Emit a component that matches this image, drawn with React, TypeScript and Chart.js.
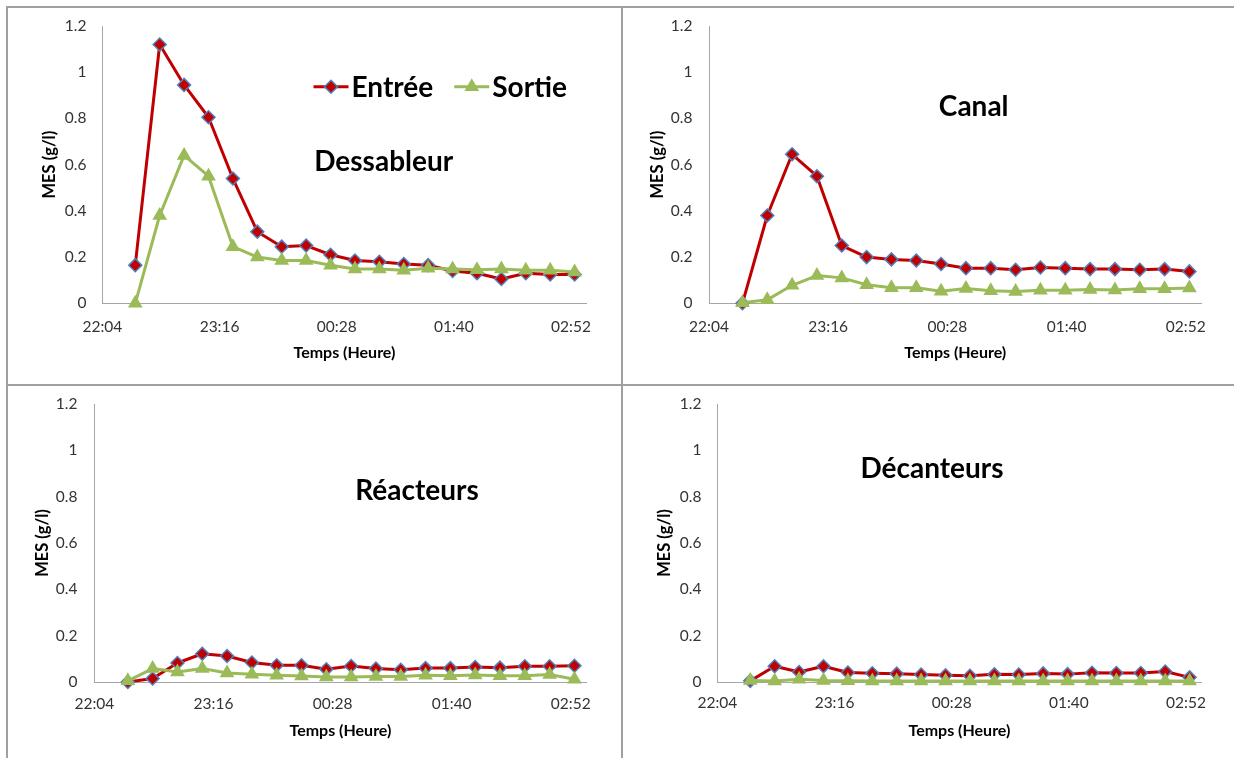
import React, { useEffect, useRef } from "react";
import { Chart, registerables } from "chart.js";

Chart.register(...registerables);

// ---------------- data ----------------
const sampleTimes = [
  "22:25", "22:40", "22:55", "23:10", "23:25", "23:40", "23:55", "00:10", "00:25", "00:40",
  "00:55", "01:10", "01:25", "01:40", "01:55", "02:10", "02:25", "02:40", "02:55",
];
const xTickLabels = ["22:04", "23:16", "00:28", "01:40", "02:52"];
const yTickValues = [0, 0.2, 0.4, 0.6, 0.8, 1, 1.2];
const seriesNames = ["Entrée", "Sortie"];
const panelTitles = ["Dessableur", "Canal", "Réacteurs", "Décanteurs"];
const xAxisTitle = "Temps (Heure)";
const yAxisTitle = "MES (g/l)";

const dessableurEntree = [0.165, 1.12, 0.945, 0.805, 0.54, 0.31, 0.245, 0.25, 0.21, 0.185, 0.18, 0.17, 0.165, 0.14, 0.13, 0.105, 0.13, 0.125, 0.125];
const dessableurSortie = [0, 0.38, 0.64, 0.55, 0.245, 0.2, 0.185, 0.185, 0.165, 0.148, 0.148, 0.143, 0.152, 0.148, 0.145, 0.148, 0.143, 0.143, 0.135];
const canalEntree = [0, 0.38, 0.645, 0.55, 0.25, 0.2, 0.19, 0.185, 0.17, 0.152, 0.152, 0.145, 0.155, 0.152, 0.148, 0.148, 0.145, 0.148, 0.138];
const canalSortie = [0.002, 0.015, 0.078, 0.12, 0.11, 0.08, 0.067, 0.067, 0.052, 0.064, 0.054, 0.051, 0.057, 0.057, 0.06, 0.058, 0.063, 0.063, 0.066];
const reacteursEntree = [0, 0.015, 0.082, 0.122, 0.112, 0.084, 0.072, 0.072, 0.055, 0.069, 0.058, 0.053, 0.06, 0.06, 0.065, 0.062, 0.068, 0.068, 0.07];
const reacteursSortie = [0.005, 0.058, 0.043, 0.058, 0.039, 0.033, 0.029, 0.026, 0.022, 0.022, 0.024, 0.024, 0.029, 0.027, 0.03, 0.027, 0.027, 0.032, 0.012];
const decanteursEntree = [0.005, 0.068, 0.043, 0.068, 0.041, 0.038, 0.036, 0.032, 0.029, 0.027, 0.033, 0.032, 0.037, 0.034, 0.04, 0.039, 0.039, 0.045, 0.02];
const decanteursSortie = [0.006, 0.004, 0.012, 0.006, 0.005, 0.004, 0.004, 0.004, 0.004, 0.004, 0.004, 0.004, 0.004, 0.004, 0.004, 0.004, 0.004, 0.004, 0.004];

// ---------------- style ----------------
const FONT = "Lato, 'Noto Sans', sans-serif";
const RED = "#c00000";
const GREEN = "#9bbb59";
const BLUE = "#4f81bd";
const AXIS_COLOR = "#a6a6a6";
const TICK_COLOR = "#333333";
const FRAME_COLOR = "#a0a0a0";

const AXIS_START = 22 * 60 + 4.8; // 22:04:48
const AXIS_STEP = 72;
const AXIS_END = AXIS_START + 297.5;

function toMinutes(t: string) {
  const [h, m] = t.split(":").map(Number);
  return (h < 12 ? h + 24 : h) * 60 + m;
}

type Box = { left: number; top: number; width: number; height: number };
type Area = { left: number; right: number; top: number; bottom: number };
type PanelCfg = {
  title: string;
  entree: number[];
  sortie: number[];
  box: Box;
  area: Area;
  yLabelRight: number;
  yTitleX: number;
  xLabelY: number;
  xTitleY: number;
  titleAt: { x: number; y: number };
  legendAt?: { x: number; y: number };
};

const PANELS: PanelCfg[] = [
  {
    title: panelTitles[0], entree: dessableurEntree, sortie: dessableurSortie,
    box: { left: 8, top: 8, width: 613, height: 376 },
    area: { left: 102.4, right: 586.5, top: 26, bottom: 303.3 },
    yLabelRight: 86.5, yTitleX: 50, xLabelY: 326.7, xTitleY: 352.7,
    titleAt: { x: 383.7, y: 162 }, legendAt: { x: 313.5, y: 86.7 },
  },
  {
    title: panelTitles[1], entree: canalEntree, sortie: canalSortie,
    box: { left: 623, top: 8, width: 611, height: 376 },
    area: { left: 709, right: 1201.5, top: 26, bottom: 303.3 },
    yLabelRight: 692.4, yTitleX: 657.5, xLabelY: 326.7, xTitleY: 352.7,
    titleAt: { x: 973.7, y: 106.7 },
  },
  {
    title: panelTitles[2], entree: reacteursEntree, sortie: reacteursSortie,
    box: { left: 8, top: 386, width: 613, height: 372 },
    area: { left: 94.4, right: 586.5, top: 404, bottom: 682 },
    yLabelRight: 77.4, yTitleX: 42.5, xLabelY: 704, xTitleY: 730.7,
    titleAt: { x: 417, y: 491 },
  },
  {
    title: panelTitles[3], entree: decanteursEntree, sortie: decanteursSortie,
    box: { left: 623, top: 386, width: 611, height: 372 },
    area: { left: 717.4, right: 1201.5, top: 404, bottom: 682 },
    yLabelRight: 701.5, yTitleX: 665, xLabelY: 703.3, xTitleY: 731,
    titleAt: { x: 932, y: 469.3 },
  },
];

const TICK_SIZE = 15.5;
const X_TITLE_SIZE = 16;
const Y_TITLE_SIZE = 16.5;
const BIG_SIZE = 28;

function drawDiamond(ctx: CanvasRenderingContext2D, x: number, y: number, r: number) {
  ctx.beginPath();
  ctx.moveTo(x, y - r);
  ctx.lineTo(x + r, y);
  ctx.lineTo(x, y + r);
  ctx.lineTo(x - r, y);
  ctx.closePath();
  ctx.fillStyle = RED;
  ctx.fill();
  ctx.lineWidth = 1.5;
  ctx.strokeStyle = BLUE;
  ctx.stroke();
}

function drawTriangle(ctx: CanvasRenderingContext2D, x: number, y: number, r: number) {
  ctx.beginPath();
  ctx.moveTo(x, y - r);
  ctx.lineTo(x + r * 0.866, y + r / 2);
  ctx.lineTo(x - r * 0.866, y + r / 2);
  ctx.closePath();
  ctx.fillStyle = GREEN;
  ctx.fill();
}

function Panel({ cfg }: { cfg: PanelCfg }) {
  const ref = useRef<HTMLCanvasElement | null>(null);

  useEffect(() => {
    const canvas = ref.current;
    if (!canvas) return;
    const { box, area } = cfg;
    const yW = area.left - box.left;
    const xH = box.top + box.height - area.bottom;
    const tickLH = TICK_SIZE * 1.2;
    const yTitleLH = Y_TITLE_SIZE * 1.2;
    const xTitleLH = X_TITLE_SIZE * 1.2;
    // label offsets are given through (invisible) tick-mark lengths so they do not
    // inflate the scale's outer padding
    const yTickGap = area.left - cfg.yLabelRight;
    const yTitlePad = cfg.yTitleX - box.left - yTitleLH / 2;
    const xTickGap = cfg.xLabelY - area.bottom - tickLH / 2;
    const xTitlePad = box.top + box.height - cfg.xTitleY - xTitleLH / 2;
    const wantTop = area.top - box.top;
    const wantRight = area.right - box.left;

    const xs = sampleTimes.map(toMinutes);

    const textPlugin = {
      id: "panelText",
      afterDraw(chart: any) {
        const ctx: CanvasRenderingContext2D = chart.ctx;
        ctx.save();
        ctx.font = `bold ${BIG_SIZE}px ${FONT}`;
        ctx.fillStyle = "#000";
        ctx.textAlign = "center";
        ctx.textBaseline = "middle";
        ctx.fillText(cfg.title, cfg.titleAt.x - box.left, cfg.titleAt.y - box.top);
        if (cfg.legendAt) {
          let x = cfg.legendAt.x - box.left;
          const y = cfg.legendAt.y - box.top;
          ctx.textAlign = "left";
          seriesNames.forEach((name, i) => {
            ctx.beginPath();
            ctx.moveTo(x, y);
            ctx.lineTo(x + 35, y);
            ctx.lineWidth = 3;
            ctx.strokeStyle = i === 0 ? RED : GREEN;
            ctx.stroke();
            if (i === 0) drawDiamond(ctx, x + 17.5, y, 6.5);
            else drawTriangle(ctx, x + 17.5, y, 8.5);
            ctx.fillStyle = "#000";
            ctx.fillText(name, x + 38, y + 1);
            x += 38 + ctx.measureText(name).width + 21;
          });
        }
        ctx.restore();
      },
    };

    const chart = new Chart(canvas, {
      type: "line",
      data: {
        datasets: [
          {
            label: seriesNames[0],
            data: xs.map((x, i) => ({ x, y: cfg.entree[i] })),
            borderColor: RED,
            backgroundColor: RED,
            borderWidth: 3,
            borderJoinStyle: "round",
            pointStyle: "rectRot",
            pointRadius: 6.5,
            pointBackgroundColor: RED,
            pointBorderColor: BLUE,
            pointBorderWidth: 1.5,
            tension: 0,
            clip: false,
            order: 2,
          },
          {
            label: seriesNames[1],
            data: xs.map((x, i) => ({ x, y: cfg.sortie[i] })),
            borderColor: GREEN,
            backgroundColor: GREEN,
            borderWidth: 3,
            borderJoinStyle: "round",
            pointStyle: "triangle",
            pointRadius: 8.5,
            pointBackgroundColor: GREEN,
            pointBorderColor: GREEN,
            pointBorderWidth: 0,
            tension: 0,
            clip: false,
            order: 1,
          },
        ],
      } as any,
      options: {
        animation: false,
        responsive: false,
        maintainAspectRatio: false,
        devicePixelRatio: 1,
        layout: {
          padding: {
            left: 0,
            top: wantTop,
            right: box.width - wantRight,
            bottom: 0,
          },
        },
        plugins: {
          legend: { display: false },
          tooltip: { enabled: false },
        },
        scales: {
          x: {
            type: "linear",
            min: AXIS_START,
            max: AXIS_END,
            afterBuildTicks: (s: any) => {
              s.ticks = xTickLabels.map((_, i) => ({ value: AXIS_START + i * AXIS_STEP }));
            },
            afterFit: (s: any) => {
              s.height = xH;
            },
            grid: { display: false, drawTicks: true, tickLength: xTickGap },
            border: { display: true, color: AXIS_COLOR, width: 1 },
            ticks: {
              autoSkip: false,
              maxRotation: 0,
              minRotation: 0,
              padding: 0,
              color: TICK_COLOR,
              font: { family: FONT, size: TICK_SIZE },
              callback: (_v: any, i: number) => xTickLabels[i],
            },
            title: {
              display: true,
              text: xAxisTitle,
              color: "#000",
              font: { family: FONT, size: X_TITLE_SIZE, weight: "bold" },
              padding: { top: 0, bottom: xTitlePad },
            },
          },
          y: {
            type: "linear",
            min: 0,
            max: 1.2,
            afterBuildTicks: (s: any) => {
              s.ticks = yTickValues.map((v) => ({ value: v }));
            },
            afterFit: (s: any) => {
              s.width = yW;
            },
            grid: { display: false, drawTicks: true, tickLength: yTickGap },
            border: { display: true, color: AXIS_COLOR, width: 1 },
            ticks: {
              padding: 0,
              color: TICK_COLOR,
              font: { family: FONT, size: TICK_SIZE },
              callback: (v: any) => String(Math.round(Number(v) * 10) / 10),
            },
            title: {
              display: true,
              text: yAxisTitle,
              color: "#000",
              font: { family: FONT, size: Y_TITLE_SIZE, weight: "bold" },
              padding: { top: yTitlePad, bottom: 0 },
            },
          },
        },
      } as any,
      plugins: [textPlugin],
    });

    // Small safety nudge so the plot area lands exactly where wanted.
    for (let k = 0; k < 3; k++) {
      const ca = chart.chartArea;
      const dTop = wantTop - ca.top;
      const dRight = ca.right - wantRight;
      if (Math.abs(dTop) < 0.05 && Math.abs(dRight) < 0.05) break;
      const p: any = (chart.options as any).layout.padding;
      (chart.options as any).layout.padding = {
        left: p.left,
        bottom: p.bottom,
        top: Math.max(0, p.top + dTop),
        right: Math.max(0, p.right + dRight),
      };
      chart.update();
    }

    return () => chart.destroy();
  }, [cfg]);

  return (
    <canvas
      ref={ref}
      width={cfg.box.width}
      height={cfg.box.height}
      style={{
        position: "absolute",
        left: cfg.box.left,
        top: cfg.box.top,
        width: cfg.box.width,
        height: cfg.box.height,
      }}
    />
  );
}

export default function App() {
  const line = (left: number, top: number, width: number, height: number) => (
    <div style={{ position: "absolute", left, top, width, height, background: FRAME_COLOR }} />
  );
  return (
    <div
      style={{
        position: "absolute",
        left: 0,
        top: 0,
        width: 1234,
        height: 758,
        background: "#fff",
        overflow: "hidden",
      }}
    >
      {PANELS.map((p, i) => (
        <Panel key={i} cfg={p} />
      ))}
      {line(6, 6, 1228, 2)}
      {line(6, 6, 2, 752)}
      {line(621, 6, 2, 752)}
      {line(6, 384, 1228, 2)}
    </div>
  );
}
